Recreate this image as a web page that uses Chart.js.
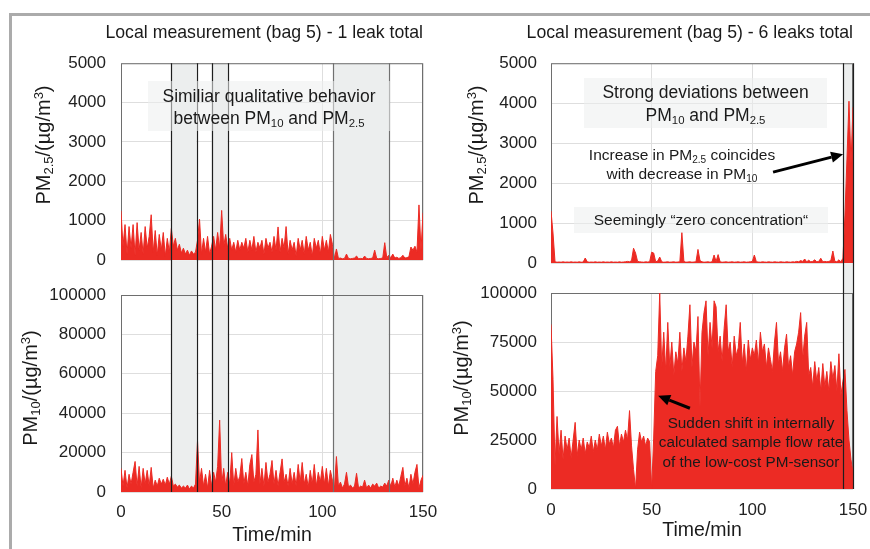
<!DOCTYPE html>
<html>
<head>
<meta charset="utf-8">
<title>Local measurement (bag 5) - PM2.5 / PM10</title>
<script src="https://cdn.jsdelivr.net/npm/chart.js@4"></script>
<style>
  html, body { margin: 0; padding: 0; background: #fff; }
  body { width: 870px; height: 549px; position: relative; overflow: hidden;
         font-family: "Liberation Sans", Arial, sans-serif; color: #1a1a1a; }
  #frame { position: absolute; left: 9px; top: 13px; width: 870px; height: 545px;
           border-left: 3px solid #ababab; border-top: 3px solid #ababab; }
  canvas { position: absolute; }
  .ytitle { position: absolute; white-space: nowrap; font-size: 20px; line-height: 1;
            transform: translate(-50%, -50%) rotate(-90deg); }
  .note { position: absolute; text-align: center; white-space: nowrap; }
  .box { background: rgba(236, 239, 239, 0.55); }
  sub { font-size: 65%; vertical-align: -0.25em; line-height: 0; }
  sup { font-size: 65%; vertical-align: 0.55em; line-height: 0; }
</style>
</head>
<body>
<div id="frame"></div>

<canvas id="leftTop" width="440" height="278" style="left:0;top:0"></canvas>
<canvas id="leftBottom" width="440" height="271" style="left:0;top:278px"></canvas>
<canvas id="rightTop" width="430" height="278" style="left:440px;top:0"></canvas>
<canvas id="rightBottom" width="430" height="271" style="left:440px;top:278px"></canvas>

<div class="ytitle" style="left:43px;top:145px">PM<sub>2.5</sub>/(µg/m<sup>3</sup>)</div>
<div class="ytitle" style="left:30px;top:388px">PM<sub>10</sub>/(µg/m<sup>3</sup>)</div>
<div class="ytitle" style="left:476px;top:145px">PM<sub>2.5</sub>/(µg/m<sup>3</sup>)</div>
<div class="ytitle" style="left:461px;top:378px">PM<sub>10</sub>/(µg/m<sup>3</sup>)</div>

<div class="note box" style="left:148px;top:81px;width:242px;height:50px;box-sizing:border-box;padding-top:4px;font-size:17.5px;line-height:22px">
  Similiar qualitative behavior<br>between PM<sub>10</sub> and PM<sub>2.5</sub>
</div>
<div class="note box" style="left:584px;top:78px;width:243px;height:50px;box-sizing:border-box;padding-top:3px;font-size:17.5px;line-height:23px">
  Strong deviations between<br>PM<sub>10</sub> and PM<sub>2.5</sub>
</div>
<div class="note" style="left:682px;top:146px;transform:translateX(-50%);font-size:15.5px;line-height:18.5px">
  Increase in PM<sub>2.5</sub> coincides<br>with decrease in PM<sub>10</sub>
</div>
<div class="note box" style="left:574px;top:207px;width:254px;height:26px;font-size:15.5px;line-height:26px">
  Seemingly “zero concentration“
</div>
<div class="note" style="left:751px;top:413px;transform:translateX(-50%);font-size:15.3px;line-height:19.4px">
  Sudden shift in internally<br>calculated sample flow rate<br>of the low-cost PM-sensor
</div>

<script>
// sampling grid, one reading per minute
const minutes = Array.from({ length: 151 }, (_, i) => i);

// 1 leak total
const leftPm25 = [
  1250, 350, 900, 150, 850, 300, 900, 120, 950, 250,
  700, 150, 850, 300, 600, 1150, 200, 750, 120, 650,
  250, 700, 100, 550, 200, 800, 350, 550, 250, 400,
  180, 300, 150, 250, 120, 230, 150, 200, 500, 1040,
  150, 550, 200, 600, 150, 350, 600, 250, 700, 300,
  1260, 350, 650, 300, 550, 250, 450, 200, 500, 250,
  450, 300, 550, 200, 500, 250, 600, 200, 450, 300,
  500, 150, 550, 300, 450, 200, 600, 250, 840, 200,
  550, 300, 850, 150, 500, 250, 450, 100, 550, 250,
  500, 150, 600, 250, 450, 100, 550, 300, 500, 150,
  600, 250, 500, 200, 650, 400, 40, 280, 40, 50,
  30, 40, 150, 40, 30, 40, 50, 100, 30, 40,
  30, 100, 40, 30, 40, 50, 250, 40, 30, 40,
  50, 440, 60, 120, 60, 150, 50, 70, 40, 60,
  120, 50, 60, 80, 330, 250, 350, 200, 1400, 250,
  1200
];
const leftPm10 = [
  12000, 3000, 11000, 2000, 9000, 4000, 10000, 15500, 3000, 13000,
  2000, 12000, 4000, 11000, 3000, 12500, 2000, 6000, 3000, 7000,
  4000, 6500, 3500, 7500, 4000, 8000, 3000, 4000, 2500, 3500,
  2000, 3000, 2000, 3500, 1500, 3000, 2000, 4000, 26000, 5000,
  12000, 3000, 9000, 2000, 11000, 3000, 10000, 5000, 13000, 36500,
  4000, 12000, 3000, 10000, 4000, 20000, 3000, 12000, 5000, 8000,
  17000, 4000, 10000, 3000, 14000, 19000, 5000, 9000, 31500, 4000,
  12000, 3000, 15000, 5000, 9000, 16000, 4000, 11000, 3000, 10000,
  16800, 5000, 9000, 3000, 12000, 4000, 10000, 3000, 14000, 5000,
  15000, 4000, 9000, 2500, 11000, 4000, 14000, 3000, 10000, 5000,
  13000, 4000, 12000, 3000, 11000, 6000, 2000, 18000, 3000, 5000,
  2000, 4000, 10000, 2500, 3500, 2000, 3000, 9500, 2000, 3000,
  2500, 6000, 2000, 3500, 2000, 4000, 3000, 4500, 2000, 3000,
  2500, 4500, 3000, 6000, 3000, 7000, 2500, 6000, 3000, 8000,
  12500, 3000, 7000, 2000, 9000, 4000, 10000, 14000, 2000, 6000,
  8500
];

// 6 leaks total
const rightPm25 = [
  1300, 750, 30, 20, 25, 20, 30, 20, 25, 20,
  30, 20, 25, 20, 30, 20, 25, 125, 30, 20,
  25, 20, 30, 20, 25, 20, 30, 20, 25, 20,
  30, 20, 25, 20, 30, 20, 25, 30, 40, 30,
  60, 370, 250, 40, 30, 25, 20, 30, 25, 30,
  270, 250, 30, 50, 150, 30, 20, 25, 30, 20,
  25, 30, 20, 25, 30, 770, 40, 20, 25, 30,
  20, 25, 30, 340, 60, 30, 20, 25, 30, 20,
  30, 200, 40, 210, 30, 20, 25, 30, 20, 25,
  30, 20, 25, 30, 20, 25, 30, 20, 25, 30,
  40, 200, 30, 25, 20, 30, 25, 20, 30, 25,
  20, 30, 25, 20, 30, 25, 20, 30, 25, 20,
  30, 25, 40, 30, 60, 40, 100, 30, 70, 30,
  40, 80, 30, 40, 120, 30, 40, 30, 40, 60,
  300, 40, 30, 80, 30, 120, 1200, 2600, 4050, 2500,
  3900
];
const rightPm10 = [
  84000, 56000, 12000, 37000, 18000, 30000, 15000, 27000, 20000, 26000,
  16000, 25000, 34000, 17000, 25000, 20000, 26000, 18000, 24000, 21000,
  27000, 19000, 25000, 20000, 28000, 22000, 27000, 20000, 29000, 23000,
  26000, 21000, 30000, 32000, 22000, 28000, 24000, 30000, 25000, 40000,
  22000, 10000, 0, 20000, 29000, 24000, 27000, 22000, 26000, 24000,
  0, 26000, 60000, 68000, 100000, 62000, 80000, 60000, 85000, 62000,
  75000, 58000, 70000, 64000, 80000, 60000, 72000, 65000, 78000, 94000,
  62000, 75000, 70000, 88000, 42000, 80000, 90000, 96000, 68000, 85000,
  72000, 96000, 93000, 70000, 78000, 65000, 82000, 94000, 70000, 75000,
  62000, 78000, 68000, 72000, 85000, 64000, 74000, 60000, 76000, 66000,
  72000, 68000, 76000, 64000, 80000, 70000, 74000, 62000, 72000, 66000,
  60000, 75000, 85000, 64000, 70000, 60000, 72000, 79000, 62000, 68000,
  58000, 70000, 74000, 80000, 90000, 66000, 78000, 85000, 58000, 62000,
  52000, 65000, 55000, 62000, 50000, 64000, 52000, 60000, 50000, 65000,
  56000, 63000, 50000, 69000, 48000, 55000, 61000, 40000, 25000, 15000,
  8000
];

// leak periods in minutes
const leftLeaks = [[25, 37.5], [45, 53], [105.5, 133]];
const rightLeaks = [[145, 150]];

const red = '#ec2b24';
const fontFamily = '"Liberation Sans", Arial, sans-serif';

// shaded leak periods, plot frame and arrows
const leakBands = {
  id: 'leakBands',
  beforeDatasetsDraw(chart, args, opts) {
    const { ctx, chartArea: a, scales: { x } } = chart;
    const y0 = opts.side === 'down' ? a.top : 0;
    const y1 = opts.side === 'down' ? chart.height : a.bottom;
    ctx.save();
    ctx.fillStyle = '#eceeee';
    opts.spans.forEach(([s, e]) => {
      const l = x.getPixelForValue(s), r = x.getPixelForValue(e);
      ctx.fillRect(l, y0, r - l, y1 - y0);
    });
    ctx.strokeStyle = '#6e6e6e';
    ctx.lineWidth = 1;
    ctx.strokeRect(a.left + 0.5, a.top + 0.5, a.width - 1, a.height - 1);
    ctx.restore();
  },
  afterDatasetsDraw(chart, args, opts) {
    const { ctx, chartArea: a, scales: { x, y } } = chart;
    const y0 = opts.side === 'down' ? a.top : 0;
    const y1 = opts.side === 'down' ? chart.height : a.bottom;
    ctx.save();
    ctx.lineWidth = 1.2;
    opts.spans.forEach((span, i) => {
      ctx.strokeStyle = opts.edgeColors[i];
      span.forEach(v => {
        const px = Math.round(x.getPixelForValue(v)) + 0.5;
        ctx.beginPath();
        ctx.moveTo(px, y0);
        ctx.lineTo(px, y1);
        ctx.stroke();
      });
    });
    (opts.arrows || []).forEach(ar => {
      const x0 = x.getPixelForValue(ar.from[0]), yy0 = y.getPixelForValue(ar.from[1]);
      const x1 = x.getPixelForValue(ar.to[0]), yy1 = y.getPixelForValue(ar.to[1]);
      const len = Math.hypot(x1 - x0, yy1 - yy0);
      const ux = (x1 - x0) / len, uy = (yy1 - yy0) / len;
      const bx = x1 - ux * 12, by = yy1 - uy * 12;
      ctx.strokeStyle = '#000';
      ctx.fillStyle = '#000';
      ctx.lineWidth = 3;
      ctx.beginPath();
      ctx.moveTo(x0, yy0);
      ctx.lineTo(bx, by);
      ctx.stroke();
      ctx.beginPath();
      ctx.moveTo(x1, yy1);
      ctx.lineTo(bx - uy * 5.5, by + ux * 5.5);
      ctx.lineTo(bx + uy * 5.5, by - ux * 5.5);
      ctx.closePath();
      ctx.fill();
    });
    ctx.restore();
  }
};

function panel(id, values, cfg) {
  const points = minutes.map((t, i) => ({ x: t, y: values[i] }));
  return new Chart(document.getElementById(id), {
    type: 'line',
    data: {
      datasets: [{
        data: points,
        borderColor: red,
        backgroundColor: red,
        borderWidth: 1,
        pointRadius: 0,
        fill: 'origin',
        tension: 0
      }]
    },
    options: {
      responsive: false,
      animation: false,
      devicePixelRatio: 1,
      layout: { padding: { top: cfg.padTop, right: 17, left: 0, bottom: 0 } },
      plugins: {
        legend: { display: false },
        tooltip: { enabled: false },
        title: {
          display: !!cfg.title,
          text: cfg.title,
          align: 'end',
          color: '#1a1a1a',
          font: { family: fontFamily, size: 17.7, weight: 'normal' },
          padding: { top: 22, bottom: 20 }
        },
        leakBands: { spans: cfg.spans, edgeColors: cfg.edgeColors, side: cfg.side, arrows: cfg.arrows }
      },
      scales: {
        x: {
          type: 'linear', min: 0, max: 150,
          ticks: {
            display: cfg.showX, stepSize: 50, padding: cfg.xPad, maxRotation: 0,
            color: '#222', font: { family: fontFamily, size: 17 },
            callback: v => String(v)
          },
          grid: { color: '#dedede', drawTicks: false },
          border: { display: false },
          title: {
            display: cfg.showX, text: 'Time/min', color: '#1a1a1a',
            font: { family: fontFamily, size: 19.5 },
            padding: { top: 0, bottom: cfg.xTitlePad }
          },
          afterFit: s => { s.height = cfg.xHeight; s.paddingLeft = 0; s.paddingRight = 0; }
        },
        y: {
          min: 0, max: cfg.yMax,
          ticks: {
            stepSize: cfg.yStep, padding: cfg.yPad,
            color: '#222', font: { family: fontFamily, size: 17 },
            callback: v => String(v)
          },
          grid: { color: '#dedede', drawTicks: false },
          border: { display: false },
          afterFit: s => { s.width = cfg.yWidth; s.paddingTop = 0; s.paddingBottom = 0; }
        }
      }
    },
    plugins: [leakBands]
  });
}

const leftEdges = ['#1e1e1e', '#1e1e1e', '#707070'];
const rightEdges = ['#1e1e1e'];

panel('leftTop', leftPm25, {
  title: 'Local measurement (bag 5) - 1 leak total',
  padTop: 0, showX: false, xHeight: 18, xPad: 0, xTitlePad: 0,
  yMax: 5000, yStep: 1000, yWidth: 121, yPad: 15,
  spans: leftLeaks, edgeColors: leftEdges, side: 'down'
});
panel('leftBottom', leftPm10, {
  padTop: 17, showX: true, xHeight: 57, xPad: 10, xTitlePad: 2,
  yMax: 100000, yStep: 20000, yWidth: 121, yPad: 15,
  spans: leftLeaks, edgeColors: leftEdges, side: 'up'
});
panel('rightTop', rightPm25, {
  title: 'Local measurement (bag 5) - 6 leaks total',
  padTop: 0, showX: false, xHeight: 15, xPad: 0, xTitlePad: 0,
  yMax: 5000, yStep: 1000, yWidth: 111, yPad: 14,
  spans: rightLeaks, edgeColors: rightEdges, side: 'down',
  arrows: [{ from: [110.3, 2275], to: [145.1, 2725] }]
});
panel('rightBottom', rightPm10, {
  padTop: 15, showX: true, xHeight: 60, xPad: 11, xTitlePad: 7,
  yMax: 100000, yStep: 25000, yWidth: 111, yPad: 14,
  spans: rightLeaks, edgeColors: rightEdges, side: 'up',
  arrows: [{ from: [69, 41200], to: [53.2, 47600] }]
});
</script>
</body>
</html>
